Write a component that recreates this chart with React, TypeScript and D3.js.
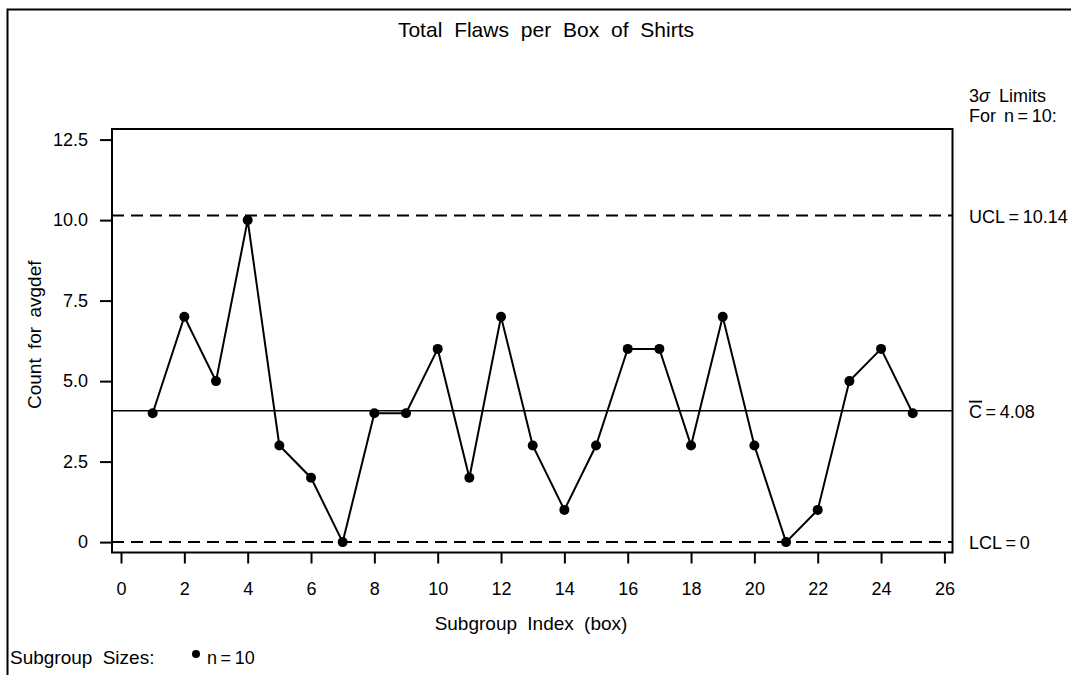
import React, { useRef, useEffect } from "react";
import * as d3 from "d3";

// subgroup index and total flaws counted per box
const boxes = [1, 2, 3, 4, 5, 6, 7, 8, 9, 10, 11, 12, 13, 14, 15, 16, 17, 18, 19, 20, 21, 22, 23, 24, 25];
const flaws = [4, 7, 5, 10, 3, 2, 0, 4, 4, 6, 2, 7, 3, 1, 3, 6, 6, 3, 7, 3, 0, 1, 5, 6, 4];

const xTicks = [0, 2, 4, 6, 8, 10, 12, 14, 16, 18, 20, 22, 24, 26];
const yTicks = [0, 2.5, 5, 7.5, 10, 12.5];

const ucl = 10.14;
const centerLine = 4.08;
const lcl = 0;

const FONT = "'Liberation Sans', Arial, Helvetica, sans-serif";

const App = () => {
  const svgRef = useRef<SVGSVGElement>(null);

  useEffect(() => {
    document.body.style.margin = "0";
    document.body.style.overflow = "hidden";
    const svg = d3.select(svgRef.current);
    svg.selectAll("*").remove();

    const width = 1071;
    const height = 675;
    // plot frame
    const frame = { left: 112, top: 129, right: 952.5, bottom: 552.5 };

    const x = d3.scaleLinear().domain([0, 26]).range([121, 944.4]);
    const y = d3.scaleLinear().domain([0, 12.5]).range([542.1, 139.6]);

    // outer border (only left and top edges fall inside the picture)
    svg
      .append("path")
      .attr("d", `M7.5,${height + 5}V9.5H${width + 5}`)
      .attr("fill", "none")
      .attr("stroke", "#000")
      .attr("stroke-width", 2);

    // title
    svg
      .append("text")
      .attr("x", 546)
      .attr("y", 37)
      .attr("text-anchor", "middle")
      .style("font-family", FONT)
      .style("font-size", "21px")
      .style("word-spacing", "6px")
      .text("Total Flaws per Box of Shirts");

    // control limit lines
    const limitLine = (v: number, dashed: boolean, w: number) => {
      svg
        .append("line")
        .attr("x1", frame.left)
        .attr("x2", frame.right)
        .attr("y1", y(v))
        .attr("y2", y(v))
        .attr("stroke", "#000")
        .attr("stroke-width", w)
        .attr("stroke-dasharray", dashed ? "12,7" : null);
    };
    limitLine(ucl, true, 2);
    limitLine(centerLine, false, 1.5);
    limitLine(lcl, true, 2);

    // frame
    svg
      .append("rect")
      .attr("x", frame.left)
      .attr("y", frame.top)
      .attr("width", frame.right - frame.left)
      .attr("height", frame.bottom - frame.top)
      .attr("fill", "none")
      .attr("stroke", "#000")
      .attr("stroke-width", 2);

    // axes
    const yAxis = d3
      .axisLeft(y)
      .tickValues(yTicks)
      .tickSize(12)
      .tickPadding(12)
      .tickFormat((d) => (+d === 0 ? "0" : (+d).toFixed(1)));
    const gy = svg.append("g").attr("transform", `translate(${frame.left},0)`).call(yAxis);
    gy.select(".domain").remove();

    const xAxis = d3.axisBottom(x).tickValues(xTicks).tickSize(11).tickPadding(19);
    const gx = svg.append("g").attr("transform", `translate(0,${frame.bottom})`).call(xAxis);
    gx.select(".domain").remove();

    [gx, gy].forEach((g) => {
      g.selectAll("line").attr("stroke", "#000").attr("stroke-width", 2);
      g.selectAll("text")
        .attr("fill", "#000")
        .style("font-family", FONT)
        .style("font-size", "18px");
    });

    // axis labels
    svg
      .append("text")
      .attr("x", 531)
      .attr("y", 630)
      .attr("text-anchor", "middle")
      .style("font-family", FONT)
      .style("font-size", "19px")
      .style("word-spacing", "5px")
      .text("Subgroup Index (box)");

    svg
      .append("text")
      .attr("transform", `translate(41,${(frame.top + frame.bottom) / 2 - 6}) rotate(-90)`)
      .attr("text-anchor", "middle")
      .style("font-family", FONT)
      .style("font-size", "19px")
      .style("word-spacing", "4px")
      .text("Count for avgdef");

    // data line and markers
    const line = d3
      .line<number>()
      .x((_, i) => x(boxes[i]))
      .y((d) => y(d));
    svg
      .append("path")
      .datum(flaws)
      .attr("d", line)
      .attr("fill", "none")
      .attr("stroke", "#000")
      .attr("stroke-width", 2);

    svg
      .selectAll(".pt")
      .data(flaws)
      .enter()
      .append("circle")
      .attr("class", "pt")
      .attr("cx", (_, i) => x(boxes[i]))
      .attr("cy", (d) => y(d))
      .attr("r", 5)
      .attr("fill", "#000");

    // right-side limit labels
    const rx = 969;
    const label = (yy: number) =>
      svg
        .append("text")
        .attr("x", rx)
        .attr("y", yy)
        .style("font-family", FONT)
        .style("font-size", "18px");

    const sig = label(102);
    sig.append("tspan").text("3");
    sig.append("tspan").style("font-style", "italic").text("σ");
    sig.append("tspan").style("word-spacing", "4px").text(" Limits");
    label(122).style("word-spacing", "3px").text("For n\u2009=\u200910:");

    label(y(ucl) + 7).text("UCL\u2009=\u200910.14");
    const cl = label(y(centerLine) + 7);
    cl.append("tspan").style("text-decoration", "overline").text("C");
    cl.append("tspan").text("\u2009=\u20094.08");
    label(y(lcl) + 7).text("LCL\u2009=\u20090");

    // subgroup sizes legend
    svg
      .append("text")
      .attr("x", 10)
      .attr("y", 664)
      .style("font-family", FONT)
      .style("font-size", "19px")
      .style("word-spacing", "5px")
      .text("Subgroup Sizes:");
    svg.append("circle").attr("cx", 196).attr("cy", 654).attr("r", 4).attr("fill", "#000");
    svg
      .append("text")
      .attr("x", 207)
      .attr("y", 664)
      .style("font-family", FONT)
      .style("font-size", "18px")
      .text("n\u2009=\u200910");
  }, []);

  return (
    <svg
      ref={svgRef}
      width={1071}
      height={675}
      style={{ position: "absolute", left: 0, top: 0, display: "block", background: "#fff" }}
    />
  );
};

export default App;
